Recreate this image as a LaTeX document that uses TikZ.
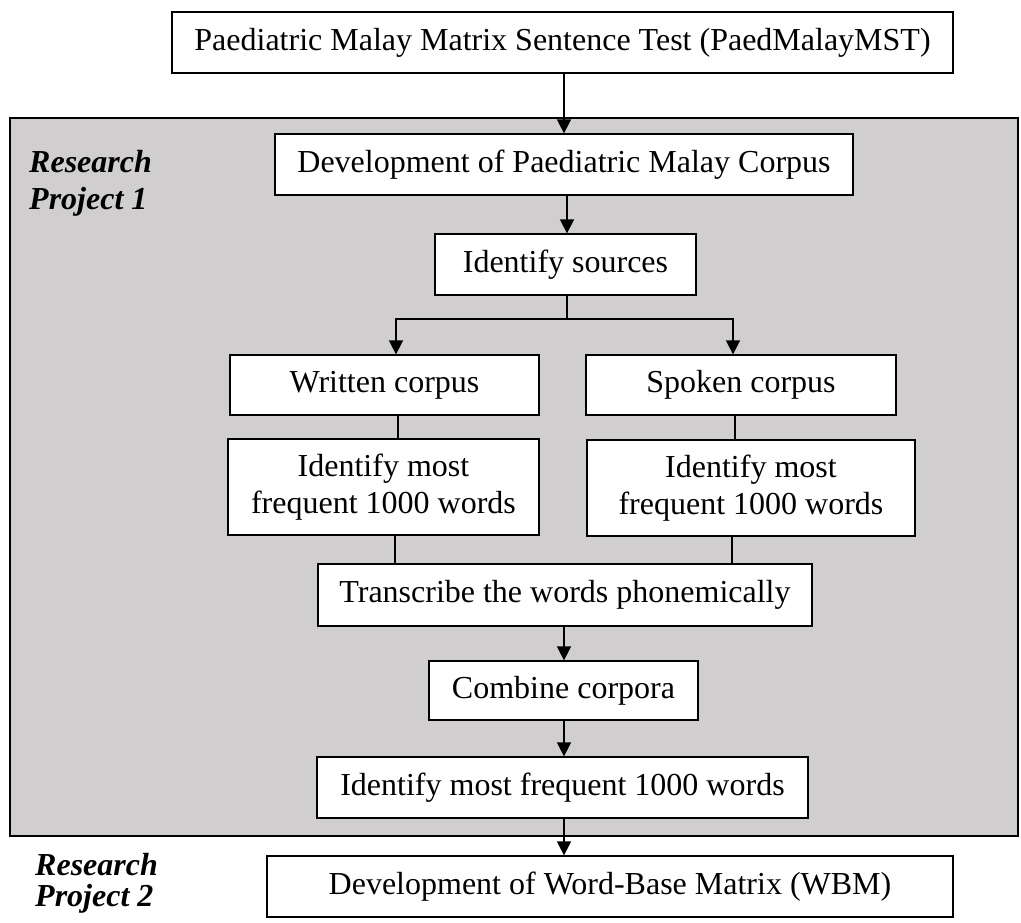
\documentclass[tikz,border=0pt]{standalone}
\usepackage{fontspec}
\setmainfont{Liberation Serif}
\usetikzlibrary{arrows.meta,calc}
\definecolor{panelgrey}{RGB}{208,206,207}
\begin{document}
\begin{tikzpicture}[x=1pt,y=-1pt,
  every node/.style={font=\fontsize{32}{37}\selectfont},
  box/.style={draw=black,line width=1.3pt,fill=white,inner sep=0pt,align=center},
  conn/.style={line width=1.6pt,draw=black},
  arr/.style={conn,-{Triangle[length=14pt,width=14pt]}},
  lbl/.style={font=\fontsize{32}{37}\selectfont\bfseries\itshape,align=left,inner sep=0pt,anchor=north west}]
\useasboundingbox (0,0) rectangle (1021,922);
% grey panel
\fill[panelgrey] (10,118) rectangle (1018,836);
\draw[line width=1.8pt] (10,118) rectangle (1018,836);
% labels
\node[lbl] (rp1) at (29,150) {Research\\Project 1};
\node[lbl] (rp2) at (35,853) {Research\\[-6pt]Project 2};
% boxes
\node[box,minimum width=781,minimum height=61] (top) at (562.5,42.5) {Paediatric Malay Matrix Sentence Test (PaedMalayMST)};
\node[box,minimum width=578,minimum height=61] (dev) at (564,164.5) {Development of Paediatric Malay Corpus};
\node[box,minimum width=261,minimum height=61] (ids) at (565.5,264.5) {Identify sources};
\node[box,minimum width=309,minimum height=60] (written) at (384.5,385) {Written corpus};
\node[box,minimum width=310,minimum height=60] (spoken) at (741,385) {Spoken corpus};
\node[box,minimum width=311,minimum height=96] (identL) at (383.5,487) {Identify most\\frequent 1000 words};
\node[box,minimum width=328,minimum height=96] (identR) at (751,488) {Identify most\\frequent 1000 words};
\node[box,minimum width=494,minimum height=62] (trans) at (565,595) {Transcribe the words phonemically};
\node[box,minimum width=269,minimum height=59] (comb) at (563.5,690.5) {Combine corpora};
\node[box,minimum width=491,minimum height=61] (ident2) at (562.5,787.5) {Identify most frequent 1000 words};
\node[box,minimum width=686,minimum height=61] (wbm) at (610,886.5) {Development of Word-Base Matrix (WBM)};
% helper x positions
\coordinate (xa) at (564,0);
\coordinate (xb) at (567,0);
\coordinate (xL) at (396,0);
\coordinate (xR) at (733,0);
\coordinate (xL2) at (398,0);
\coordinate (xR2) at (735,0);
\coordinate (xL3) at (395,0);
\coordinate (xR3) at (732,0);
\coordinate (br) at (567,319);
% connectors
\draw[arr] (top.south -| xa) -- (dev.north -| xa);
\draw[arr] (dev.south -| xb) -- (ids.north -| xb);
\draw[conn] (ids.south -| br) -- (br);
\draw[arr] (br) -| (written.north -| xL);
\draw[arr] (br) -| (spoken.north -| xR);
\draw[conn] (written.south -| xL2) -- (identL.north -| xL2);
\draw[conn] (spoken.south -| xR2) -- (identR.north -| xR2);
\draw[conn] (identL.south -| xL3) -- (trans.north -| xL3);
\draw[conn] (identR.south -| xR3) -- (trans.north -| xR3);
\draw[arr] (trans.south -| xa) -- (comb.north -| xa);
\draw[arr] (comb.south -| xa) -- (ident2.north -| xa);
\draw[arr] (ident2.south -| xa) -- (wbm.north -| xa);
\end{tikzpicture}
\end{document}
